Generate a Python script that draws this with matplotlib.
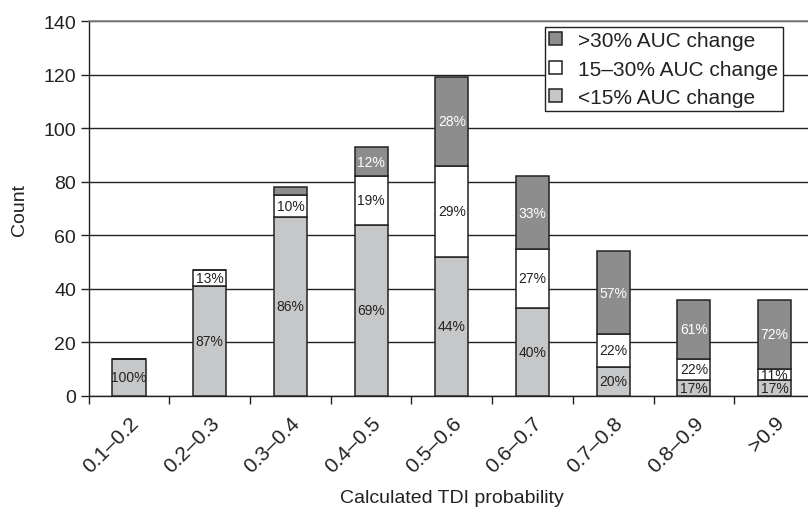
import matplotlib
matplotlib.use("Agg")
import matplotlib.pyplot as plt
import numpy as np

categories = ["0.1–0.2", "0.2–0.3", "0.3–0.4", "0.4–0.5", "0.5–0.6",
              "0.6–0.7", "0.7–0.8", "0.8–0.9", ">0.9"]
low_counts = [14, 41, 67, 64, 52, 33, 11, 6, 6]      # <15% AUC change
mid_counts = [0, 6, 8, 18, 34, 22, 12, 8, 4]         # 15–30% AUC change
high_counts = [0, 0, 3, 11, 33, 27, 31, 22, 26]      # >30% AUC change
low_labels = ["100%", "87%", "86%", "69%", "44%", "40%", "20%", "17%", "17%"]
mid_labels = ["", "13%", "10%", "19%", "29%", "27%", "22%", "22%", "11%"]
high_labels = ["", "", "", "12%", "28%", "33%", "57%", "61%", "72%"]
series_names = [">30% AUC change", "15–30% AUC change", "<15% AUC change"]

plt.rcParams['font.family'] = ['Liberation Sans', 'DejaVu Sans']

W, H = 808, 510
fig = plt.figure(figsize=(W / 100, H / 100), dpi=100)
left_px, right_px, top_px, bottom_px = 88.6, 815.0, 22.0, 397.0
ax = fig.add_axes([left_px / W, 1 - bottom_px / H,
                   (right_px - left_px) / W, (bottom_px - top_px) / H])

c_low, c_mid, c_high = "#c6c7c9", "#ffffff", "#8d8d8d"
edge = "#222222"
x = np.arange(len(categories))
width = 0.41
low = np.array(low_counts)
mid = np.array(mid_counts)
high = np.array(high_counts)

b_low = ax.bar(x, low, width, color=c_low, edgecolor=edge, linewidth=1.1, zorder=3)
b_mid = ax.bar(x, mid, width, bottom=low, color=c_mid, edgecolor=edge, linewidth=1.1, zorder=3)
b_high = ax.bar(x, high, width, bottom=low + mid, color=c_high, edgecolor=edge, linewidth=1.1, zorder=3)

lab_fs = 10
for i in range(len(categories)):
    if low_labels[i]:
        ax.text(x[i], low[i] / 2, low_labels[i], ha="center", va="center",
                fontsize=lab_fs, color="#222222", zorder=4)
    if mid_labels[i]:
        ax.text(x[i], low[i] + mid[i] / 2, mid_labels[i], ha="center", va="center",
                fontsize=lab_fs, color="#222222", zorder=4)
    if high_labels[i]:
        ax.text(x[i], low[i] + mid[i] + high[i] / 2, high_labels[i], ha="center",
                va="center", fontsize=lab_fs, color="white", zorder=4)

ax.set_xlim(-0.5, len(categories) - 0.5)
ax.set_ylim(0, 140)
ax.set_yticks(np.arange(0, 141, 20))
ax.yaxis.grid(True, color="#222222", linewidth=1.0, zorder=0)
ax.set_axisbelow(True)

ax.set_xticks(x)
ax.set_xticklabels(categories, rotation=45, ha="right", rotation_mode="anchor",
                   fontsize=15, color="#222222")
ax.set_xticks(np.arange(-0.5, len(categories) + 0.5, 1), minor=True)
ax.tick_params(axis="x", which="major", length=0, pad=12)
ax.tick_params(axis="x", which="minor", length=6, width=1.0, direction="out", color="#222222")
ax.tick_params(axis="y", labelsize=14, length=6, width=1.0, color="#222222",
               labelcolor="#222222", pad=3)

ax.spines["right"].set_visible(False)
ax.spines["top"].set_color("#808080")
ax.spines["top"].set_linewidth(1.2)
ax.spines["left"].set_color("#222222")
ax.spines["bottom"].set_color("#222222")
ax.spines["left"].set_linewidth(1.0)
ax.spines["bottom"].set_linewidth(1.0)

ax.set_ylabel("Count", fontsize=14, labelpad=11, color="#222222")
ax.set_xlabel("Calculated TDI probability", fontsize=14, color="#222222")
ax.xaxis.set_label_coords(0.5, -(490 - bottom_px) / (bottom_px - top_px))

leg = ax.legend([b_high, b_mid, b_low], series_names, loc="upper left",
                bbox_to_anchor=((545 - left_px) / (right_px - left_px),
                                1 - (28 - top_px) / (bottom_px - top_px)),
                borderaxespad=0, fontsize=15, frameon=True, fancybox=False,
                edgecolor="#222222", handlelength=0.6, handleheight=0.6,
                handletextpad=0.8, labelspacing=0.45, borderpad=0.2)
for t in leg.get_texts():
    t.set_color("#222222")
leg.get_frame().set_linewidth(1.0)
leg.get_frame().set_alpha(1)
leg.set_zorder(5)

fig.savefig("out.png", dpi=100)
